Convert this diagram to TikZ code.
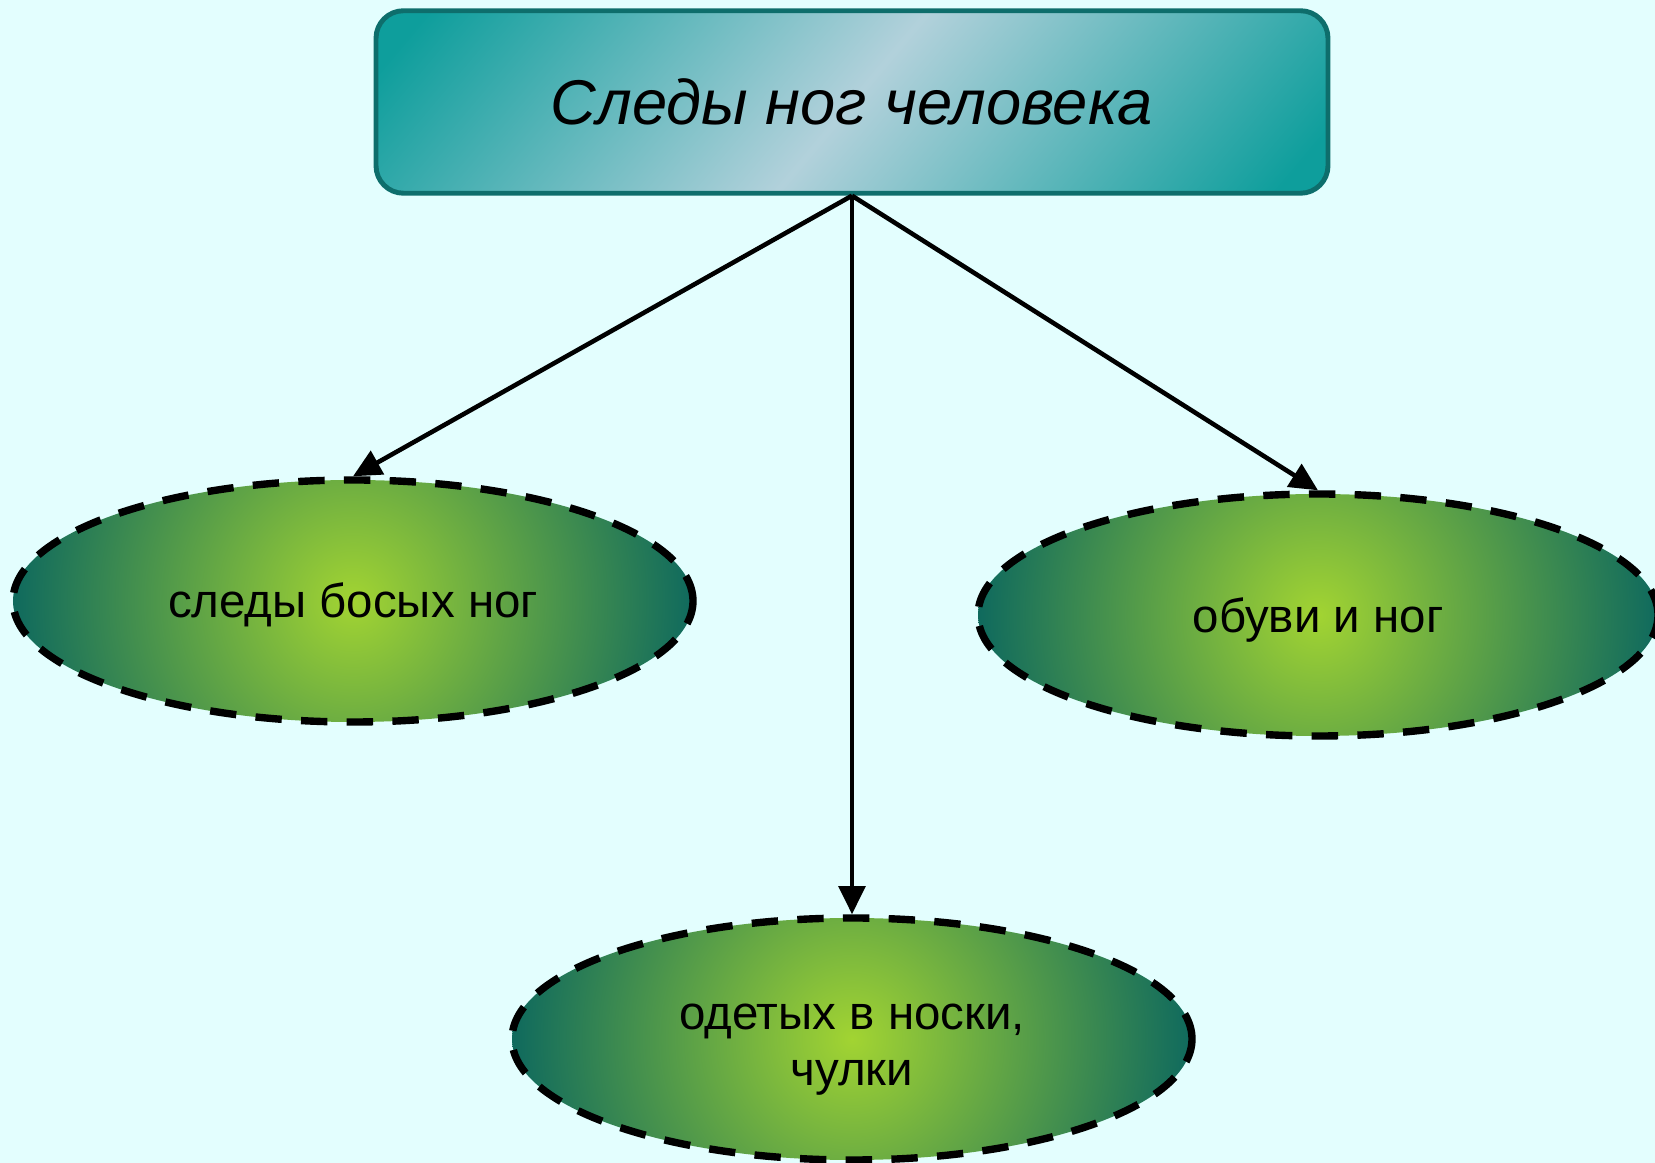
\documentclass[tikz,border=0pt]{standalone}
\usepackage{fontspec}
\setmainfont{Liberation Sans}
\usetikzlibrary{shapes.geometric,arrows.meta}
\definecolor{bgcyan}{HTML}{E3FEFE}
\definecolor{boxedge}{HTML}{0E6E6C}
\definecolor{boxteal}{HTML}{0E9E9C}
\definecolor{boxlight}{HTML}{B2D1DB}
\definecolor{ovalin}{HTML}{A2D432}
\definecolor{ovalout}{HTML}{0D685E}
\pgfdeclarehorizontalshading{boxshade}{100bp}{color(0bp)=(boxteal); color(18bp)=(boxteal);
  color(50bp)=(boxlight); color(82bp)=(boxteal); color(100bp)=(boxteal)}
\tikzset{
  titlebox/.style={draw=boxedge,line width=2.8pt,rounded corners=0.55cm,
    minimum width=19.04cm,minimum height=3.65cm,
    shade,shading=boxshade,shading angle=-40,
    font=\fontsize{36}{43}\selectfont\itshape},
  oval/.style={ellipse,draw=black,line width=4.2pt,dash pattern=on 15pt off 11pt,
    inner sep=0pt,minimum width=13.6cm,minimum height=4.84cm,align=center,
    path picture={\shade[inner color=ovalin,outer color=ovalout]
      (path picture bounding box.center) circle (6.9cm);},
    font=\fontsize{27}{32}\selectfont},
  link/.style={line width=2.6pt,-{Triangle[length=16pt,width=15pt]}}
}
\begin{document}
\begin{tikzpicture}
            \fill[bgcyan] (0,0) rectangle (33.1,23.26);
            \useasboundingbox (0,0) rectangle (33.1,23.26);
            \node[titlebox] (traces) at (17.04,21.22) {Следы ног человека};
            \node[oval] (barefoot) at (7.06,11.24) {\raisebox{-0.08cm}[\height][\depth]{следы босых ног}};
            \node[oval] (shoes) at (26.36,10.96) {\raisebox{-0.1cm}[\height][\depth]{обуви и ног}};
            \node[oval] (socks) at (17.04,2.48)
              {\raisebox{-0.15cm}[\height][\depth]{\begin{tabular}{@{}c@{}}одетых в носки,\\чулки\end{tabular}}};
            \draw[link] (traces.south) -- (barefoot.north);
            \draw[link] (traces.south) -- (socks.north);
            \draw[link] (traces.south) -- (shoes.north);
        \end{tikzpicture}
\end{document}
